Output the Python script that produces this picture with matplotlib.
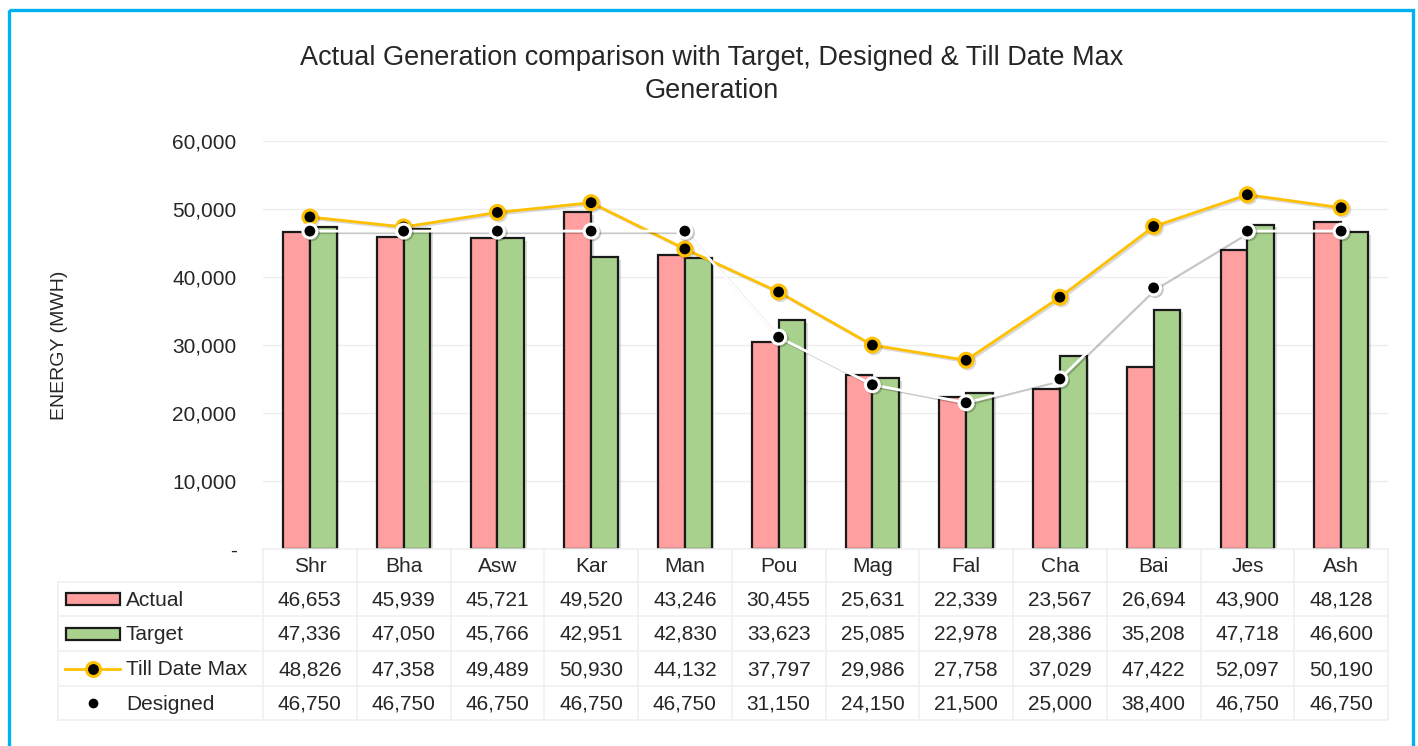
import matplotlib
matplotlib.use("Agg")
import matplotlib.pyplot as plt
import matplotlib.patheffects as pe
from matplotlib.patches import Rectangle
from matplotlib.lines import Line2D
import numpy as np

plt.rcParams['font.family'] = ['Liberation Sans', 'DejaVu Sans']

categories = ["Shr", "Bha", "Asw", "Kar", "Man", "Pou", "Mag", "Fal", "Cha", "Bai", "Jes", "Ash"]
actual = [46653, 45939, 45721, 49520, 43246, 30455, 25631, 22339, 23567, 26694, 43900, 48128]
target = [47336, 47050, 45766, 42951, 42830, 33623, 25085, 22978, 28386, 35208, 47718, 46600]
till_date_max = [48826, 47358, 49489, 50930, 44132, 37797, 29986, 27758, 37029, 47422, 52097, 50190]
designed = [46750, 46750, 46750, 46750, 46750, 31150, 24150, 21500, 25000, 38400, 46750, 46750]
series_names = ["Actual", "Target", "Till Date Max", "Designed"]
yticks = [0, 10000, 20000, 30000, 40000, 50000, 60000]
ytick_labels = ["-", "10,000", "20,000", "30,000", "40,000", "50,000", "60,000"]

C_ACT = "#FF9F9F"
C_TGT = "#A9D18E"
C_GOLD = "#FFC000"
C_TEXT = "#262626"

W, H = 1418, 746
fig = plt.figure(figsize=(W / 100, H / 100), dpi=100)
fig.patch.set_facecolor("white")

def fx(px):
    return px / W

def fy(py):
    return 1 - py / H

# main plot axes: x from 263 to 1388, y from 141 (60000) to 549 (0)
left, right, top, bottom = 263, 1388, 141, 549
ax = fig.add_axes([fx(left), fy(bottom), fx(right - left), (bottom - top) / H])
ax.set_xlim(-0.5, len(categories) - 0.5)
ax.set_ylim(0, 60000)
ax.set_facecolor("none")
for s in ax.spines.values():
    s.set_visible(False)
ax.set_xticks([])
ax.set_yticks(yticks)
ax.set_yticklabels(ytick_labels, fontsize=15, color=C_TEXT)
ax.tick_params(axis="y", length=0, pad=19)
ax.yaxis.grid(True, color="#EDEDED", lw=1)
ax.set_axisbelow(True)
ax.set_ylabel("ENERGY (MWH)", fontsize=14, color=C_TEXT)
ax.yaxis.set_label_coords(-0.173, 0.5)

x = np.arange(len(categories))
bw = 0.285
shadow_bar = [pe.SimplePatchShadow(offset=(2, -2), alpha=0.22, rho=0.5), pe.Normal()]
ax.bar(x - bw / 2, actual, width=bw, color=C_ACT, edgecolor="#1a1a1a", lw=1.6,
       path_effects=shadow_bar, zorder=2)
ax.bar(x + bw / 2, target, width=bw, color=C_TGT, edgecolor="#1a1a1a", lw=1.6,
       path_effects=shadow_bar, zorder=2)

ax.plot(x, till_date_max, color=C_GOLD, lw=2.0, marker="o", ms=10,
        mfc="black", mec=C_GOLD, mew=2.2, zorder=4,
        path_effects=[pe.SimpleLineShadow(offset=(1.2, -1.2), alpha=0.15), pe.Normal()])
ax.plot(x, designed, color="white", lw=2.0, marker="o", ms=10,
        mfc="black", mec="white", mew=2.2, zorder=5,
        path_effects=[pe.SimpleLineShadow(offset=(1.2, -1.2), alpha=0.22), pe.Normal()])

# overlay axes in pixel coordinates for table, title, border
ov = fig.add_axes([0, 0, 1, 1])
ov.set_xlim(0, W)
ov.set_ylim(H, 0)
ov.axis("off")

# border
ov.add_patch(Rectangle((8.5, 9.5), 1404, 800, fill=False, ec="#00B0F0", lw=2.4, clip_on=True))

# title
ov.text(712, 58, "Actual Generation comparison with Target, Designed & Till Date Max",
        ha="center", va="center", fontsize=19.5, color=C_TEXT)
ov.text(712, 91, "Generation", ha="center", va="center", fontsize=19.5, color=C_TEXT)

# table
colw = (right - left) / len(categories)
row_edges = [549, 582, 616, 651, 686, 720]
grid_c = "#F0F0F0"
lab_left = 58
ov.plot([left, right], [row_edges[0], row_edges[0]], color=grid_c, lw=1.2)
for ry in row_edges[1:]:
    ov.plot([lab_left, right], [ry, ry], color=grid_c, lw=1.2)
ov.plot([lab_left, lab_left], [row_edges[1], row_edges[-1]], color=grid_c, lw=1.2)
for i in range(len(categories) + 1):
    xx = left + i * colw
    ov.plot([xx, xx], [row_edges[0], row_edges[-1]], color=grid_c, lw=1.2)

rows = [actual, target, till_date_max, designed]
for i, c in enumerate(categories):
    cx = left + (i + 0.5) * colw
    ov.text(cx, (row_edges[0] + row_edges[1]) / 2 + 1, c, ha="center", va="center",
            fontsize=15, color=C_TEXT)
    for r, vals in enumerate(rows):
        cy = (row_edges[r + 1] + row_edges[r + 2]) / 2 + 1
        ov.text(cx, cy, f"{vals[i]:,}", ha="center", va="center", fontsize=15, color=C_TEXT)

# legend keys + labels
for r, name in enumerate(series_names):
    cy = (row_edges[r + 1] + row_edges[r + 2]) / 2
    if r == 0:
        ov.add_patch(Rectangle((66, cy - 6), 54, 12, fc=C_ACT, ec="#1a1a1a", lw=1.6))
    elif r == 1:
        ov.add_patch(Rectangle((66, cy - 6), 54, 12, fc=C_TGT, ec="#1a1a1a", lw=1.6))
    elif r == 2:
        ov.add_line(Line2D([65, 120], [cy, cy], color=C_GOLD, lw=2.0))
        ov.add_line(Line2D([93], [cy], marker="o", ms=10, mfc="black", mec=C_GOLD, mew=2.2))
    else:
        ov.add_line(Line2D([93], [cy], marker="o", ms=6, mfc="black", mec="black"))
    ov.text(126, cy + 1, name, ha="left", va="center", fontsize=15, color=C_TEXT)

fig.savefig("out.png", dpi=100)
